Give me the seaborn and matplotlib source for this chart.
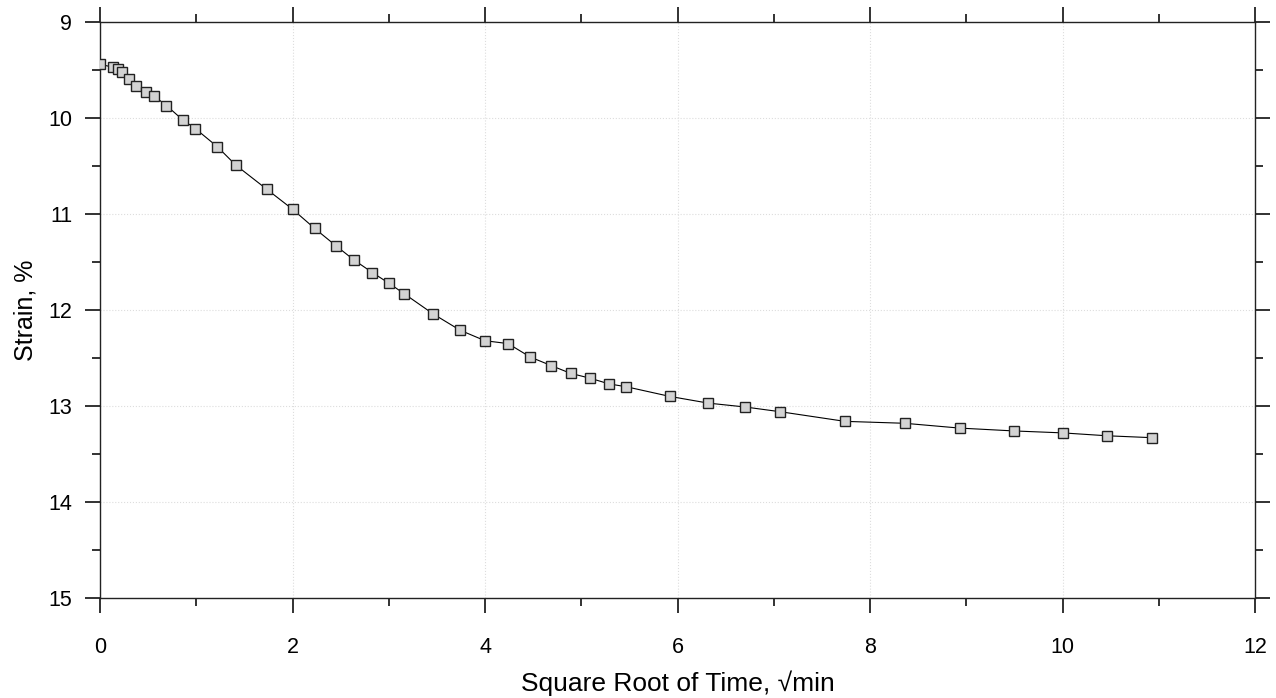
import numpy as np
import pandas as pd
import seaborn as sns
from matplotlib import pyplot as plt
from matplotlib.ticker import MultipleLocator

# square root of time (sqrt(min)) and strain (%)
sqrt_time = [0.0, 0.13, 0.19, 0.23, 0.30, 0.37, 0.48, 0.56, 0.69, 0.86, 0.99,
             1.22, 1.41, 1.73, 2.0, 2.23, 2.45, 2.64, 2.83, 3.0, 3.16,
             3.46, 3.74, 4.0, 4.24, 4.47, 4.69, 4.89, 5.09, 5.29, 5.47,
             5.92, 6.32, 6.70, 7.07, 7.74, 8.36, 8.93, 9.50, 10.0, 10.46, 10.93]
strain = [9.44, 9.47, 9.49, 9.52, 9.59, 9.67, 9.73, 9.77, 9.87, 10.02, 10.11,
          10.30, 10.49, 10.74, 10.95, 11.15, 11.33, 11.48, 11.61, 11.72, 11.83,
          12.04, 12.21, 12.32, 12.35, 12.49, 12.58, 12.66, 12.71, 12.77, 12.80,
          12.90, 12.97, 13.01, 13.06, 13.16, 13.18, 13.23, 13.26, 13.28, 13.31, 13.33]

x_ticks = [0, 2, 4, 6, 8, 10, 12]
y_ticks = [9, 10, 11, 12, 13, 14, 15]


def main():
    sns.set_style("white")
    plt.rcParams['font.family'] = ['Liberation Sans', 'DejaVu Sans']
    plt.rcParams['text.color'] = 'black'
    plt.rcParams['axes.labelcolor'] = 'black'
    plt.rcParams['xtick.color'] = 'black'
    plt.rcParams['ytick.color'] = 'black'

    df = pd.DataFrame({"sqrt_time": sqrt_time, "strain": strain})

    fig = plt.figure(figsize=(12.76, 6.98), dpi=100)
    ax = fig.add_axes([100 / 1276, 1 - 598 / 698, 1155 / 1276, 576 / 698])

    sns.lineplot(data=df, x="sqrt_time", y="strain", ax=ax, sort=False,
                 color="black", linewidth=0.8, marker="s", markersize=7.5,
                 markerfacecolor="#d3d3d3", markeredgecolor="#222222",
                 markeredgewidth=1.0, zorder=3)

    ax.set_xlim(0, 12)
    ax.set_ylim(15, 9)
    ax.set_xticks(x_ticks)
    ax.set_yticks(y_ticks)
    ax.xaxis.set_minor_locator(MultipleLocator(1))
    ax.yaxis.set_minor_locator(MultipleLocator(0.5))

    ax.grid(True, which="major", color="#dddddd", linestyle=":", linewidth=0.8)

    for side in ["left", "right", "top", "bottom"]:
        ax.spines[side].set_visible(True)
        ax.spines[side].set_color("#222222")
        ax.spines[side].set_linewidth(1.0)

    ax.tick_params(which="both", direction="out", top=True, right=True,
                   bottom=True, left=True, color="#222222", width=1.3)
    ax.tick_params(which="major", length=11, labelsize=15.5,
                   labeltop=False, labelright=False)
    ax.tick_params(axis="y", which="major", pad=9)
    ax.tick_params(axis="x", which="major", pad=17)
    ax.tick_params(which="minor", length=6)

    ax.set_xlabel("Square Root of Time, \u221amin", fontsize=19, labelpad=9)
    ax.set_ylabel("Strain, %", fontsize=18, labelpad=8)

    fig.savefig("out.png", dpi=100)


if __name__ == '__main__':
    main()
